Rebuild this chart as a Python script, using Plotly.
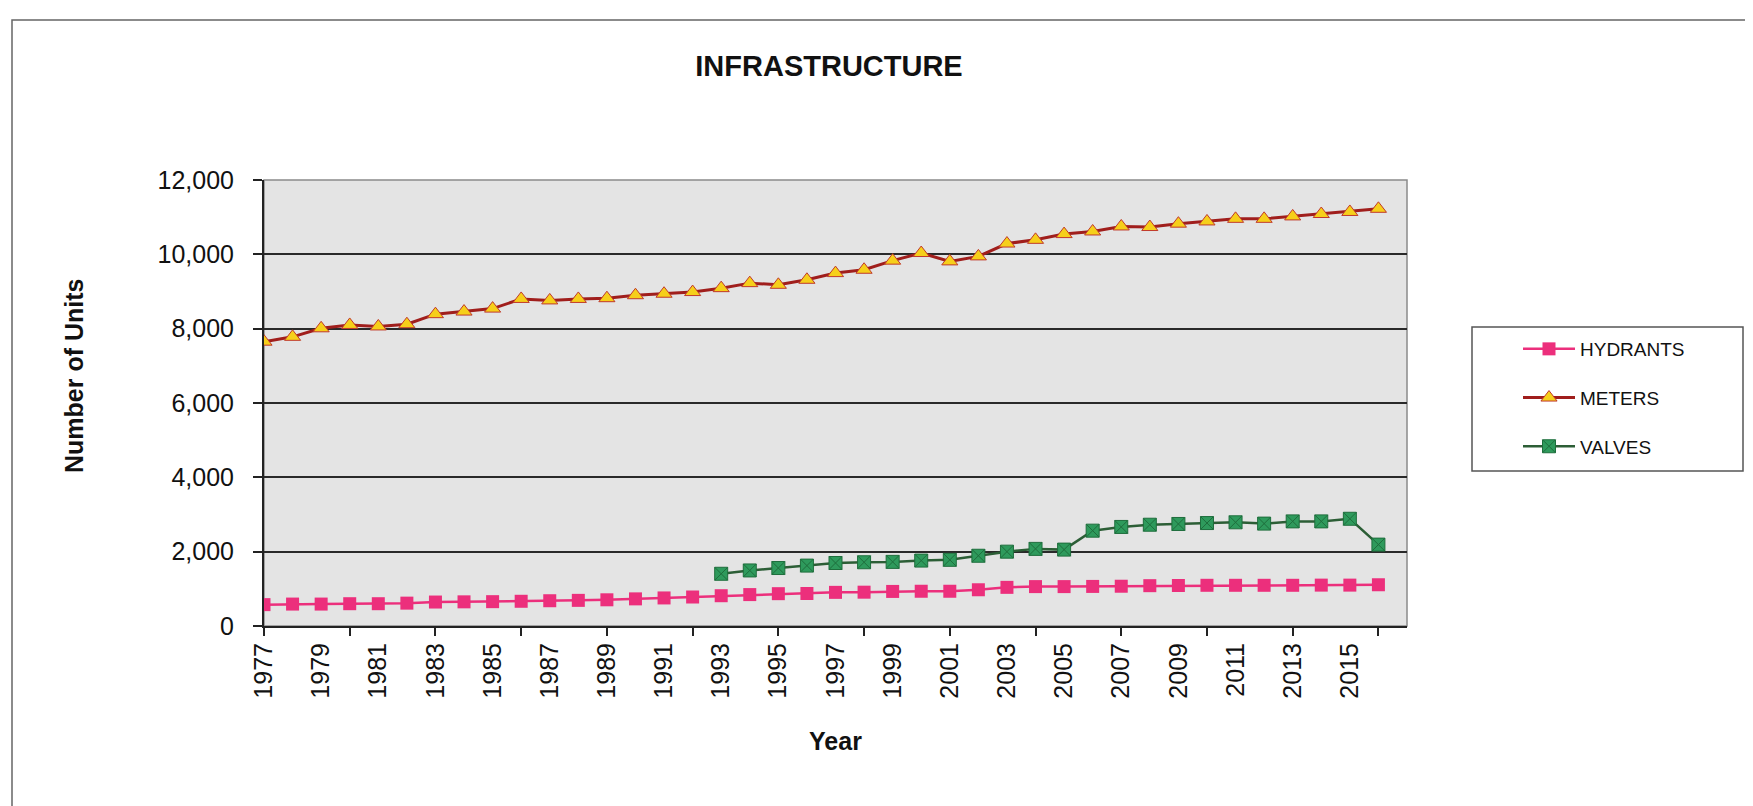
import plotly.graph_objects as go

years = list(range(1977, 2017))
hydrants = [575, 590, 590, 600, 600, 615, 645, 650, 655, 665, 680, 690, 705, 730,
            755, 780, 815, 845, 870, 875, 905, 910, 930, 935, 935, 975, 1040, 1060,
            1060, 1065, 1070, 1085, 1090, 1095, 1095, 1095, 1095, 1100, 1100, 1110]
meters = [7650, 7780, 8010, 8100, 8060, 8120, 8390, 8460, 8540, 8800, 8760, 8800,
          8820, 8900, 8940, 8985, 9090, 9225, 9180, 9315, 9495, 9585, 9830, 10035,
          9810, 9945, 10290, 10390, 10545, 10615, 10750, 10735, 10825, 10885, 10955,
          10955, 11020, 11085, 11140, 11225]
valves = [None] * 16 + [1405, 1495, 1560, 1625, 1695, 1715, 1725, 1760, 1780, 1890,
                        2000, 2075, 2055, 2565, 2665, 2725, 2745, 2770, 2790, 2755,
                        2815, 2815, 2885, 2190]
label_years = list(range(1977, 2017, 2))
tick_years = list(range(1977, 2017, 3))

FONT = "Liberation Sans, Arial, sans-serif"
W, H = 1753, 806
L, R, T, B = 256, 1399, 172, 618

def px_x(p):
    return (p - L) / (R - L)

def px_y(p):
    return (B - p) / (B - T)

fig = go.Figure()
fig.add_trace(go.Scatter(
    x=years, y=hydrants, name="HYDRANTS", mode="lines+markers", legendgroup="h",
    line=dict(color="#EC2F7C", width=2.5),
    marker=dict(symbol="square", size=13, color="#EC2F7C", line=dict(width=0))))
fig.add_trace(go.Scatter(
    x=years, y=meters, name="METERS", mode="lines+markers", legendgroup="m",
    line=dict(color="#A01E1C", width=3),
    marker=dict(symbol="triangle-up", size=14, color="#F6CF1A",
                line=dict(color="#C0392B", width=1))))
fig.add_trace(go.Scatter(
    x=years, y=valves, name="VALVES", mode="lines+markers", legendgroup="v",
    connectgaps=False,
    line=dict(color="#2C5E36", width=2.5),
    marker=dict(symbol="square-x", size=13, color="#2E9A5C",
                line=dict(color="#1E6E3C", width=1))))
# invisible trace tying the label axis
fig.add_trace(go.Scatter(x=years, y=hydrants, xaxis="x2", mode="lines",
                         line=dict(width=0), showlegend=False, hoverinfo="skip",
                         opacity=0))

xr = [1977, 2017]
fig.update_layout(
    width=W, height=H,
    margin=dict(l=L, r=W - R, t=T, b=H - B, autoexpand=False),
    paper_bgcolor="white",
    plot_bgcolor="#E4E4E4",
    font=dict(family=FONT, color="#111111"),
    title=dict(text="<b>INFRASTRUCTURE</b>", x=821 / W, xref="container", xanchor="center",
               y=1 - 58 / H, yref="container", yanchor="middle",
               font=dict(size=29, family=FONT, color="#111111")),
    xaxis=dict(range=xr, tickmode="array", tickvals=tick_years, showticklabels=False,
               ticks="outside", ticklen=8, tickwidth=1.5, tickcolor="#222",
               showgrid=False, zeroline=False, showline=True, linecolor="#222",
               linewidth=2, fixedrange=True),
    xaxis2=dict(range=xr, overlaying="x", anchor="y", side="bottom",
                tickmode="array", tickvals=label_years,
                ticktext=[str(y) for y in label_years], tickangle=-90,
                ticks="", showgrid=False, zeroline=False, showline=False,
                tickfont=dict(size=25, family=FONT, color="#111"),
                ticklabelstandoff=11,
                title=dict(text="<b>Year</b>", font=dict(size=25, family=FONT, color="#111"),
                           standoff=34)),
    yaxis=dict(range=[0, 12000], tickmode="linear", tick0=0, dtick=2000,
               tickformat=",", ticks="outside", ticklen=9, tickwidth=1.5, tickcolor="#222",
               showgrid=True, gridcolor="#2A2A2A", gridwidth=1.6,
               zeroline=False, showline=True, linecolor="#222", linewidth=2,
               tickfont=dict(size=25, family=FONT, color="#111"),
               ticklabelstandoff=14),
    annotations=[dict(text="<b>Number of Units</b>", textangle=-90,
                      xref="paper", yref="paper", x=px_x(66), y=px_y(368),
                      xanchor="center", yanchor="middle", showarrow=False,
                      font=dict(size=25, family=FONT, color="#111"))],
    legend=dict(x=1510 / W, xref="container", xanchor="left",
                y=1 - 322 / H, yref="container", yanchor="top",
                bgcolor="rgba(0,0,0,0)", borderwidth=0,
                font=dict(size=19, family=FONT, color="#111"),
                itemwidth=52, tracegroupgap=21),
    shapes=[
        dict(type="rect", xref="paper", yref="paper", x0=0, x1=1, y0=0, y1=1,
             line=dict(color="#8A8A8A", width=1.5), layer="below"),
        dict(type="rect", xref="paper", yref="paper",
             x0=px_x(1464), x1=px_x(1735), y0=px_y(463), y1=px_y(319),
             line=dict(color="#555555", width=1.5)),
        dict(type="rect", xref="paper", yref="paper",
             x0=px_x(4), x1=px_x(1750), y0=px_y(801), y1=px_y(12),
             line=dict(color="#666666", width=1.5)),
    ],
)

fig.write_html("out.html")
